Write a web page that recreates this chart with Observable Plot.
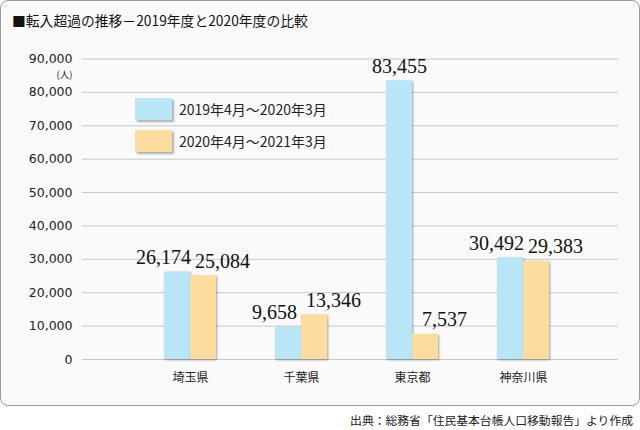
<!DOCTYPE html>
<html>
<head>
<meta charset="utf-8">
<script src="https://cdn.jsdelivr.net/npm/d3@7"></script>
<script src="https://cdn.jsdelivr.net/npm/@observablehq/plot@0.6"></script>
<style>
  html, body { margin: 0; padding: 0; background: #ffffff; }
  #wrap { position: relative; width: 640px; height: 430px; overflow: hidden; font-family: "Noto Sans CJK JP", sans-serif; }
  #box { position: absolute; left: 0; top: 0; width: 640px; height: 406px; box-sizing: border-box;
         border: 1px solid #9a9a9a; border-radius: 8px; background: #fafafa; }
  #title { position: absolute; left: 12px; top: 10px; font-size: 13.8px; color: #111; line-height: 20px; white-space: nowrap; }
  #caption { position: absolute; right: 7px; top: 411px; font-size: 11.8px; color: #222; line-height: 18px; white-space: nowrap; }
  #chart { position: absolute; left: 0; top: 0; }
  .leg { position: absolute; left: 135px; display: flex; align-items: center; font-size: 14px; color: #222; white-space: nowrap; }
  .sw { width: 37px; height: 22px; margin-right: 7px; box-shadow: 1.5px 1.5px 2px rgba(0,0,0,0.3); }
</style>
</head>
<body>
<div id="wrap">
  <div id="box"></div>
  <div id="chart"></div>
  <div id="title"></div>
  <div id="legend"></div>
  <div id="caption"></div>
</div>
<script>
const titleText = "■転入超過の推移－2019年度と2020年度の比較";
const captionText = "出典：総務省「住民基本台帳人口移動報告」より作成";
const unitLabel = "(人)";
const prefs = ["埼玉県", "千葉県", "東京都", "神奈川県"];
const fy2019 = [26174, 9658, 83455, 30492];
const fy2020 = [25084, 13346, 7537, 29383];
const seriesNames = ["2019年4月～2020年3月", "2020年4月～2021年3月"];
const seriesColors = ["#b8e6f7", "#fcdc9f"];
const yTicks = [0, 10000, 20000, 30000, 40000, 50000, 60000, 70000, 80000, 90000];

document.getElementById("title").textContent = titleText;
document.getElementById("caption").textContent = captionText;

const legend = document.getElementById("legend");
seriesNames.forEach((name, i) => {
  const row = document.createElement("div");
  row.className = "leg";
  row.style.top = (98 + i * 32) + "px";
  const sw = document.createElement("div");
  sw.className = "sw";
  sw.style.background = seriesColors[i];
  const t = document.createElement("span");
  t.textContent = name;
  row.appendChild(sw);
  row.appendChild(t);
  legend.appendChild(row);
});

const idx = prefs.map((d, i) => i);
const fmt = d3.format(",");
const serif = "'Liberation Serif', 'Times New Roman', serif";

const plot = Plot.plot({
  width: 640,
  height: 430,
  marginTop: 58.5,
  marginBottom: 71,
  marginLeft: 82,
  marginRight: 22,
  style: { background: "transparent", fontFamily: "'DejaVu Sans', sans-serif", fontSize: "12.5px", color: "#222" },
  x: { domain: prefs, range: [133.4, 578.7], paddingInner: 0.533, paddingOuter: 0.2665, label: null },
  y: { domain: [0, 90000], label: null },
  marks: [
    Plot.ruleY(yTicks, { stroke: "#c8c8c8", strokeWidth: 1 }),
    Plot.axisY(yTicks, { tickSize: 0, tickPadding: 10, tickFormat: fmt, label: null, fontSize: 12.5, letterSpacing: "0.4px" }),
    Plot.text([unitLabel], { frameAnchor: "left", y: [90000], text: d => d, textAnchor: "end", dx: -10, dy: 15.5, fontSize: 9.5, fontFamily: "'Noto Sans CJK JP', sans-serif", fill: "#222" }),
    Plot.axisX({ tickSize: 0, tickPadding: 14, fontFamily: "'Noto Sans CJK JP', sans-serif", fontSize: 12, label: null }),
    Plot.barY(idx, { x: i => prefs[i], y: i => fy2019[i], fill: seriesColors[0], insetRight: 26 }),
    Plot.barY(idx, { x: i => prefs[i], y: i => fy2020[i], fill: seriesColors[1], insetLeft: 26 }),
    Plot.text(idx.filter(i => i !== 2), { x: i => prefs[i], y: i => fy2019[i], text: i => fmt(fy2019[i]), lineAnchor: "bottom", dx: -27, dy: -8, fontFamily: serif, fontSize: 20, fill: "#111" }),
    Plot.text(idx.filter(i => i === 2), { x: i => prefs[i], y: i => fy2019[i], text: i => fmt(fy2019[i]), lineAnchor: "bottom", dx: -13, dy: -8, fontFamily: serif, fontSize: 20, fill: "#111" }),
    Plot.text(idx, { x: i => prefs[i], y: i => fy2020[i], text: i => fmt(fy2020[i]), lineAnchor: "bottom", dx: 32, dy: -8, fontFamily: serif, fontSize: 20, fill: "#111" })
  ]
});
document.getElementById("chart").appendChild(plot);
d3.select(plot).selectAll("g[aria-label='bar']").style("filter", "drop-shadow(1.5px 1px 1.2px rgba(0,0,0,0.35))");
</script>
</body>
</html>
